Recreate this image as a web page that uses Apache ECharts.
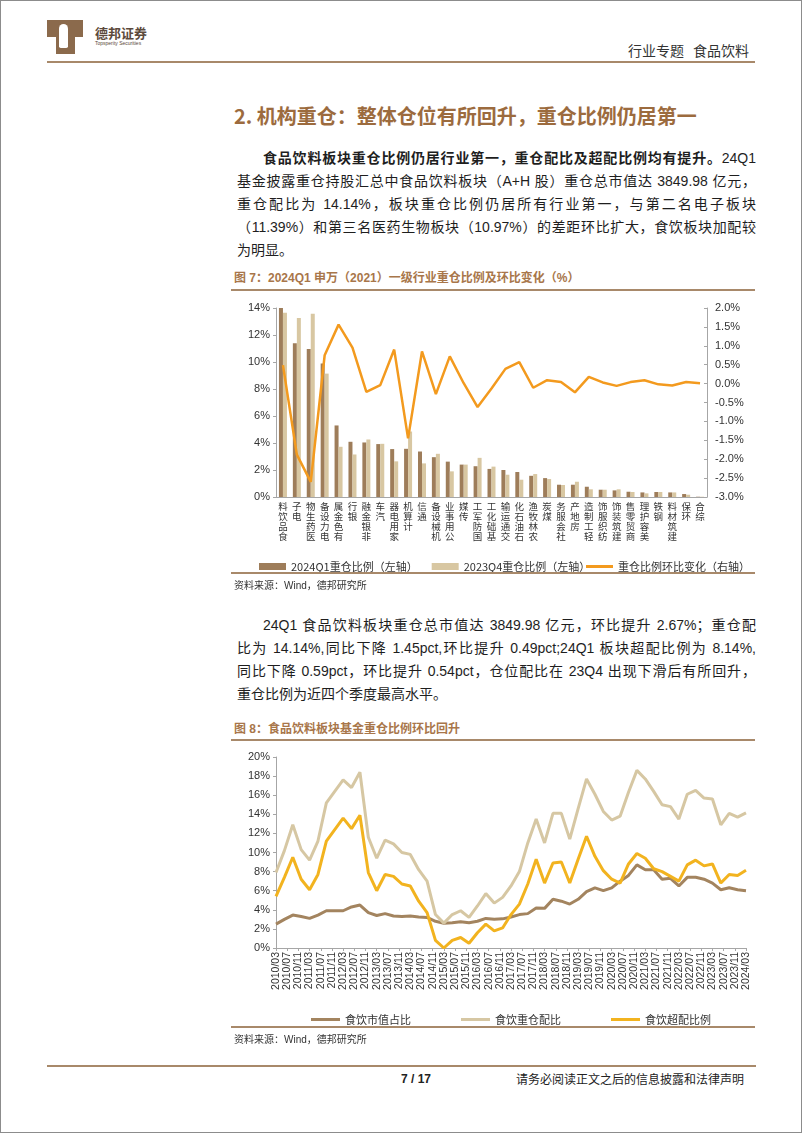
<!DOCTYPE html>
<html>
<head>
<meta charset="utf-8">
<script src="https://cdn.jsdelivr.net/npm/echarts@6/dist/echarts.min.js"></script>
<style>
body{margin:0;background:#fff;}
#page{position:relative;width:802px;height:1133px;box-sizing:border-box;border:1px solid #8c8c8c;overflow:hidden;
  font-family:"Liberation Sans","Noto Sans CJK SC",sans-serif;color:#1e1e1e;}
.abs{position:absolute;white-space:nowrap;}
.rule{position:absolute;height:2px;background:#a8896a;}
.ln{position:absolute;font-size:14px;line-height:20px;height:20px;text-align:justify;text-align-last:justify;overflow:visible;}
.cap{position:absolute;font-size:12px;line-height:16px;font-weight:bold;color:#a8764a;white-space:nowrap;}
.src{position:absolute;font-size:10px;line-height:14px;color:#333;white-space:nowrap;}
</style>
</head>
<body>
<div id="page">
  <!-- 页眉 -->
  <div class="abs" style="left:46px;top:19px;width:36px;height:17px;background:#8b6a4c;"></div>
  <div class="abs" style="left:55px;top:35px;width:19px;height:18px;background:#8b6a4c;"></div>
  <div class="abs" style="left:58px;top:23px;width:9px;height:24px;border-radius:5px 5px 2px 2px;background:#fff;"></div>
  <div class="abs" style="left:94px;top:24px;font-size:13px;line-height:16px;font-weight:bold;color:#5c4a3c;font-family:'Noto Sans CJK SC';">德邦证券</div>
  <div class="abs" style="left:94px;top:39px;font-size:5px;line-height:6px;color:#5c4a3c;">Topsperity Securities</div>
  <div class="abs" style="left:627px;top:40px;font-size:14px;line-height:18px;color:#333;font-family:'Noto Sans CJK SC';">行业专题<span style="margin-left:9px">食品饮料</span></div>
  <div class="rule" style="left:46px;top:60px;width:708px;"></div>

  <div class="abs" style="left:233px;top:102px;font-size:20px;line-height:26px;font-weight:bold;color:#9c6b3e;font-family:'Noto Sans CJK SC';">2. 机构重仓：整体仓位有所回升，重仓比例仍居第一</div>

  <div class="ln" style="left:262px;top:147px;width:493px;"><b>食品饮料板块重仓比例仍居行业第一，重仓配比及超配比例均有提升。</b>24Q1</div>
  <div class="ln" style="left:236px;top:170px;width:519px;">基金披露重仓持股汇总中食品饮料板块（A+H 股）重仓总市值达 3849.98 亿元，</div>
  <div class="ln" style="left:236px;top:193px;width:519px;">重仓配比为 14.14%，板块重仓比例仍居所有行业第一，与第二名电子板块</div>
  <div class="ln" style="left:236px;top:216px;width:519px;">（11.39%）和第三名医药生物板块（10.97%）的差距环比扩大，食饮板块加配较</div>
  <div class="ln" style="left:236px;top:239px;width:519px;text-align-last:left;">为明显。</div>

  <div class="cap" style="left:233px;top:269px;">图 7：2024Q1 申万（2021）一级行业重仓比例及环比变化（%）</div>
  <div class="rule" style="left:230px;top:288px;width:524px;"></div>
  <div id="chart1" style="position:absolute;left:230px;top:295px;width:530px;height:285px;"></div>
  <div class="rule" style="left:230px;top:571px;width:524px;"></div>
  <div class="src" style="left:233px;top:578px;">资料来源：Wind，德邦研究所</div>

  <div class="ln" style="left:262px;top:614px;width:493px;">24Q1 食品饮料板块重仓总市值达 3849.98 亿元，环比提升 2.67%；重仓配</div>
  <div class="ln" style="left:236px;top:637px;width:519px;">比为 14.14%,同比下降 1.45pct,环比提升 0.49pct;24Q1 板块超配比例为 8.14%,</div>
  <div class="ln" style="left:236px;top:660px;width:519px;">同比下降 0.59pct，环比提升 0.54pct，仓位配比在 23Q4 出现下滑后有所回升，</div>
  <div class="ln" style="left:236px;top:683px;width:519px;text-align-last:left;">重仓比例为近四个季度最高水平。</div>

  <div class="cap" style="left:233px;top:720px;">图 8：食品饮料板块基金重仓比例环比回升</div>
  <div class="rule" style="left:230px;top:738px;width:524px;"></div>
  <div id="chart2" style="position:absolute;left:230px;top:745px;width:530px;height:290px;"></div>
  <div class="rule" style="left:230px;top:1025px;width:524px;"></div>
  <div class="src" style="left:233px;top:1032px;">资料来源：Wind，德邦研究所</div>

  <!-- 页脚 -->
  <div class="rule" style="left:46px;top:1064px;width:709px;"></div>
  <div class="abs" style="left:400px;top:1070px;font-size:12px;line-height:16px;font-weight:bold;color:#222;">7 / 17</div>
  <div class="abs" style="left:515px;top:1070px;font-size:12px;line-height:16px;color:#222;font-family:'Noto Sans CJK SC';">请务必阅读正文之后的信息披露和法律声明</div>
</div>

<script>
// 图7 数据
var industries = ['食品饮料','电子','医药生物','电力设备','有色金属','银行','非银金融','汽车','家用电器','计算机',
  '通信','机械设备','公用事业','传媒','国防军工','基础化工','交通运输','石油石化','农林牧渔','煤炭',
  '社会服务','房地产','轻工制造','纺织服饰','建筑装饰','商贸零售','美容护理','钢铁','建筑材料','环保','综合'];
var ratio24Q1 = [14.14,11.39,10.97,9.88,5.30,4.09,4.04,3.92,3.55,3.57,
  3.37,2.95,2.62,2.40,2.28,2.08,2.00,1.85,1.57,1.40,
  0.91,0.91,0.76,0.54,0.49,0.39,0.34,0.37,0.34,0.22,0.02];
var ratio23Q4 = [13.65,13.26,13.58,9.14,3.72,3.15,4.26,3.94,2.64,4.85,
  2.49,3.20,1.90,2.40,2.90,2.25,1.65,1.28,1.70,1.33,
  0.89,1.13,0.57,0.54,0.57,0.37,0.27,0.37,0.34,0.17,0.02];
var ratioChg = [0.49,-1.88,-2.60,0.75,1.56,0.95,-0.22,-0.04,0.90,-1.45,
  0.85,-0.28,0.72,0.01,-0.62,-0.13,0.39,0.57,-0.11,0.09,
  0.04,-0.23,0.18,0.03,-0.06,0.04,0.09,-0.02,-0.05,0.04,0.01];

// 图8 数据（季度，2010/03 - 2024/03）
var startYear = 2010, endYear = 2024;
var mktShare = [2.5,3.0,3.45,3.3,3.1,3.45,3.9,3.9,3.9,4.3,
  4.5,3.7,3.4,3.6,3.35,3.3,3.35,3.25,3.2,2.8,
  2.6,2.65,2.75,2.65,2.8,3.1,3.0,3.05,3.25,3.5,
  3.6,4.2,4.15,5.1,4.9,4.6,5.1,5.9,6.3,6.0,
  6.3,7.0,7.6,8.7,8.2,8.2,7.2,7.3,6.5,7.4,
  7.4,7.2,6.8,6.1,6.3,6.1,6.0];
var heavyRatio = [7.9,10.2,12.9,10.3,9.2,11.2,15.2,16.4,17.6,16.8,
  18.4,11.6,9.4,11.3,10.9,10.0,9.8,8.2,7.0,3.5,
  2.6,3.5,3.9,3.2,4.4,5.7,4.7,5.3,6.5,8.0,
  11.0,13.5,11.0,14.1,14.1,11.4,14.6,17.7,16.1,14.3,
  13.4,13.8,16.3,18.6,17.7,16.4,15.0,14.8,13.5,16.1,
  16.5,15.7,15.6,12.9,14.1,13.7,14.14];
var overRatio = [5.4,7.4,9.5,7.2,6.1,7.7,11.2,12.4,13.6,12.5,
  13.9,7.9,6.0,7.7,7.5,6.7,6.5,4.9,3.7,0.8,
  0.0,0.8,1.1,0.5,1.6,2.5,1.8,2.1,3.5,4.6,
  6.7,9.3,6.8,8.9,9.0,6.8,9.3,11.7,9.6,8.1,
  7.2,6.8,8.8,9.9,9.4,8.3,8.0,7.5,7.0,8.7,
  9.2,8.6,8.8,6.8,7.7,7.6,8.14];

var months = [];
for (var y = startYear; y <= endYear; y++) {
  for (var m = 1; m <= 12; m++) {
    if (y === startYear && m < 3) continue;
    if (y === endYear && m > 3) break;
    months.push(y + '/' + (m < 10 ? '0' + m : m));
  }
}
var toPairs = function (arr) {
  return arr.map(function (v, i) { return [months[i * 3], v]; });
};

var axisGray = '#a6a6a6';
var numFont = 'Liberation Sans';
var cjkFont = 'Noto Sans CJK SC';

var chart1 = echarts.init(document.getElementById('chart1'));
chart1.setOption({
  animation: false,
  grid: {left: 45, top: 12, width: 431, height: 189},
  legend: [
    {
      left: 23, top: 260, icon: 'rect', itemWidth: 27, itemHeight: 7, itemGap: 14,
      data: ['2024Q1重仓比例（左轴）', '2023Q4重仓比例（左轴）'],
      textStyle: {fontSize: 11, color: '#333', fontFamily: cjkFont}
    },
    {
      left: 350, top: 260, icon: 'rect', itemWidth: 27, itemHeight: 3,
      data: ['重仓比例环比变化（右轴）'],
      textStyle: {fontSize: 11, color: '#333', fontFamily: cjkFont}
    }
  ],
  xAxis: {
    type: 'category',
    data: industries,
    axisLine: {lineStyle: {color: axisGray}},
    axisTick: {length: 3, lineStyle: {color: axisGray}},
    axisLabel: {
      interval: 0,
      margin: 4,
      fontSize: 9.5,
      lineHeight: 10,
      color: '#333',
      fontFamily: cjkFont,
      verticalAlign: 'top',
      formatter: function (v) { return v.split('').reverse().join('\n'); }
    }
  },
  yAxis: [
    {
      type: 'value', min: 0, max: 14, interval: 2,
      axisLine: {show: true, lineStyle: {color: axisGray}},
      axisTick: {show: true, length: 3, lineStyle: {color: axisGray}},
      splitLine: {show: false},
      axisLabel: {formatter: '{value}%', fontSize: 11, color: '#333', fontFamily: numFont, margin: 6}
    },
    {
      type: 'value', min: -3, max: 2, interval: 0.5,
      axisLine: {show: true, lineStyle: {color: axisGray}},
      axisTick: {show: true, length: 3, inside: true, lineStyle: {color: axisGray}},
      splitLine: {show: false},
      axisLabel: {
        formatter: function (v) { return v.toFixed(1) + '%'; },
        fontSize: 11, color: '#333', fontFamily: numFont, margin: 8
      }
    }
  ],
  series: [
    {
      name: '2024Q1重仓比例（左轴）', type: 'bar', data: ratio24Q1,
      barWidth: 4, barGap: '0%', itemStyle: {color: '#9e7d5a'}
    },
    {
      name: '2023Q4重仓比例（左轴）', type: 'bar', data: ratio23Q4,
      barWidth: 4, barGap: '0%', itemStyle: {color: '#d8c7a2'}
    },
    {
      name: '重仓比例环比变化（右轴）', type: 'line', yAxisIndex: 1, data: ratioChg,
      symbol: 'none', lineStyle: {color: '#f39a1e', width: 2.5}, itemStyle: {color: '#f39a1e'}
    }
  ]
});

var chart2 = echarts.init(document.getElementById('chart2'));
chart2.setOption({
  animation: false,
  grid: {left: 45, top: 11, width: 470, height: 191},
  legend: {
    left: 75, top: 263, icon: 'rect', itemWidth: 29, itemHeight: 3, itemGap: 50,
    textStyle: {fontSize: 11, color: '#333', fontFamily: cjkFont},
    data: ['食饮市值占比', '食饮重仓配比', '食饮超配比例']
  },
  xAxis: {
    type: 'category',
    data: months,
    boundaryGap: false,
    axisLine: {lineStyle: {color: axisGray}},
    axisTick: {interval: 3, length: 3, lineStyle: {color: axisGray}},
    axisLabel: {interval: 3, rotate: 90, margin: 4, fontSize: 10.5, color: '#333', fontFamily: numFont}
  },
  yAxis: {
    type: 'value', min: 0, max: 20, interval: 2,
    axisLine: {show: true, lineStyle: {color: axisGray}},
    axisTick: {show: true, length: 3, lineStyle: {color: axisGray}},
    splitLine: {show: false},
    axisLabel: {formatter: '{value}%', fontSize: 11, color: '#333', fontFamily: numFont, margin: 6}
  },
  series: [
    {
      name: '食饮市值占比', type: 'line', data: toPairs(mktShare), symbol: 'none',
      lineStyle: {color: '#a3845f', width: 3}, itemStyle: {color: '#a3845f'}
    },
    {
      name: '食饮重仓配比', type: 'line', data: toPairs(heavyRatio), symbol: 'none',
      lineStyle: {color: '#d6c7a3', width: 3}, itemStyle: {color: '#d6c7a3'}
    },
    {
      name: '食饮超配比例', type: 'line', data: toPairs(overRatio), symbol: 'none',
      lineStyle: {color: '#f2b31f', width: 3}, itemStyle: {color: '#f2b31f'}
    }
  ]
});
</script>
</body>
</html>
